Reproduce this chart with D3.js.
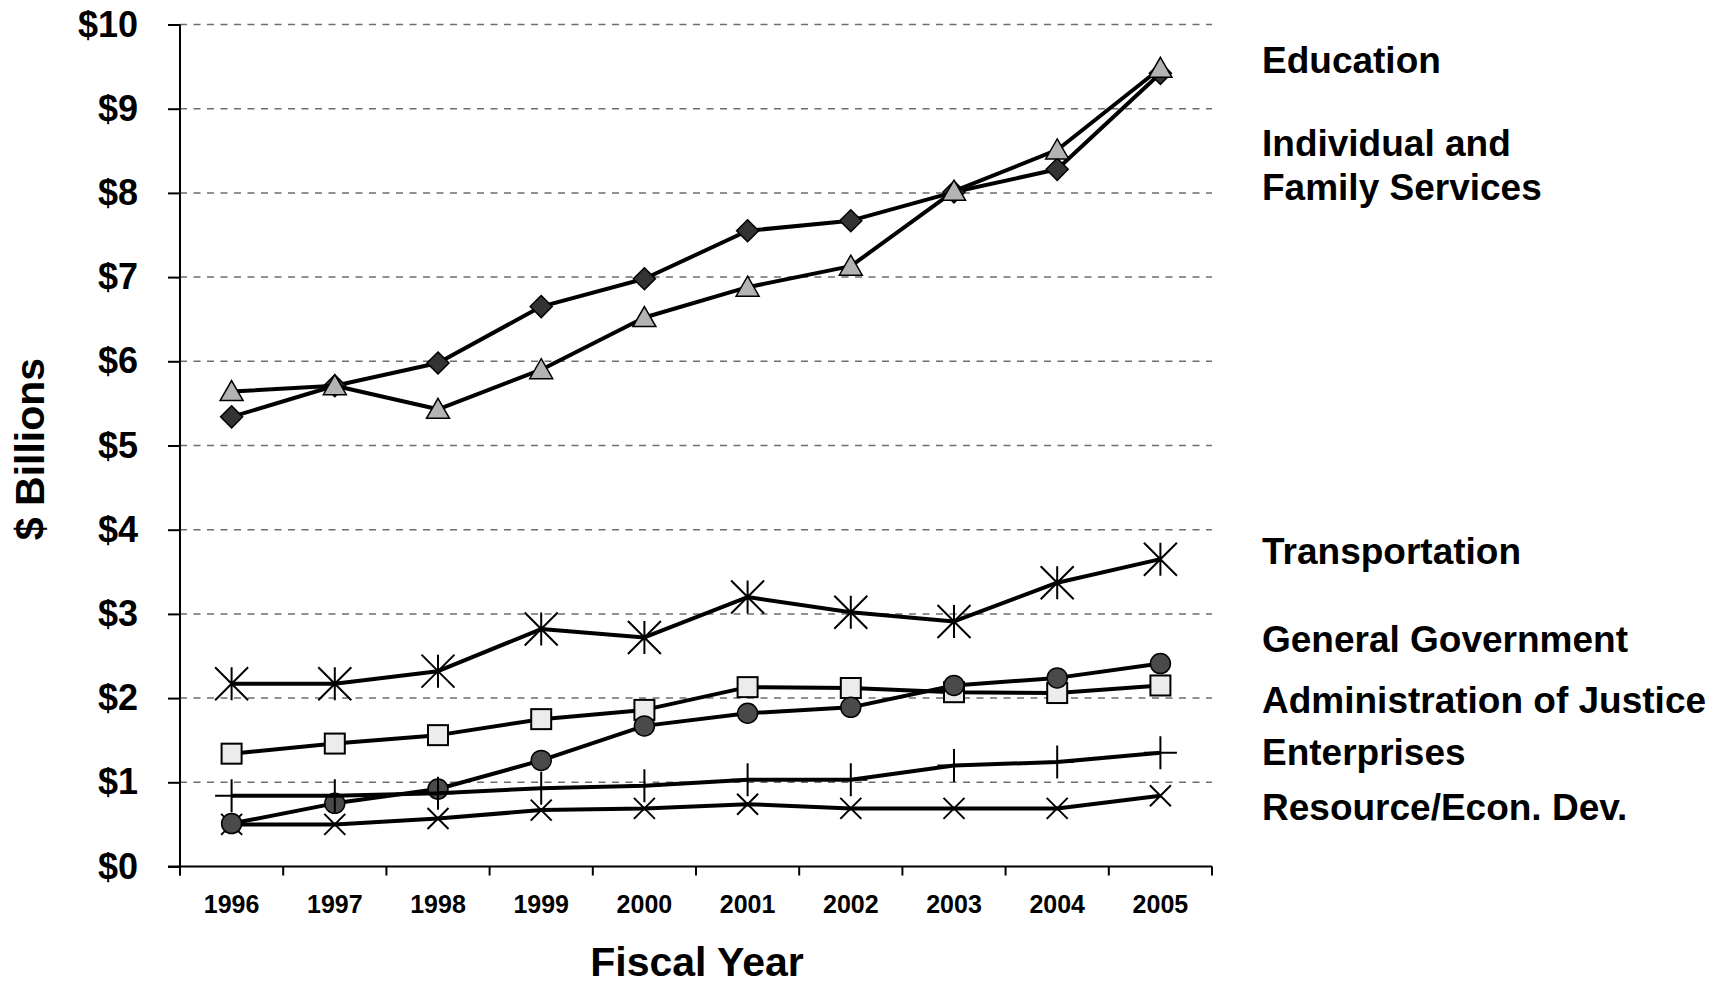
<!DOCTYPE html>
<html>
<head>
<meta charset="utf-8">
<script src="https://cdn.jsdelivr.net/npm/d3@7"></script>
<style>
  body { margin: 0; background: #fff; }
  svg { display: block; }
  text { font-family: "Liberation Sans", Arial, Helvetica, sans-serif; font-weight: bold; fill: #000; }
</style>
</head>
<body>
<svg id="chart" width="1733" height="987"></svg>
<script>
// ---------- data ----------
const years = [1996, 1997, 1998, 1999, 2000, 2001, 2002, 2003, 2004, 2005];
const yTickValues = [0, 1, 2, 3, 4, 5, 6, 7, 8, 9, 10];

const individualFamily = [5.34, 5.71, 5.98, 6.65, 6.98, 7.55, 7.67, 8.01, 8.28, 9.42];
const adminJustice     = [1.34, 1.46, 1.56, 1.75, 1.86, 2.13, 2.12, 2.07, 2.06, 2.15];
const education        = [5.64, 5.71, 5.43, 5.90, 6.52, 6.88, 7.13, 8.02, 8.51, 9.48];
const resourceEcon     = [0.50, 0.50, 0.57, 0.67, 0.69, 0.74, 0.69, 0.69, 0.69, 0.84];
const transportation   = [2.17, 2.17, 2.32, 2.82, 2.72, 3.20, 3.02, 2.91, 3.37, 3.65];
const generalGov       = [0.51, 0.75, 0.92, 1.26, 1.67, 1.82, 1.89, 2.15, 2.24, 2.41];
const enterprises      = [0.84, 0.84, 0.87, 0.93, 0.96, 1.03, 1.03, 1.20, 1.24, 1.35];

const labelLines = ["Education", "Individual and", "Family Services", "Transportation",
  "General Government", "Administration of Justice", "Enterprises", "Resource/Econ. Dev."];

// ---------- layout ----------
const W = 1733, H = 987;
const plotLeft = 180, plotRight = 1212, plotTop = 24.5, plotBottom = 866.5;
const labelX = 1262;
const labelY = [60, 143.5, 187.5, 551, 639.5, 700, 752, 807.5];

const svg = d3.select("#chart");
svg.append("rect").attr("width", W).attr("height", H).attr("fill", "#fff");

const x = d3.scaleBand().domain(years).range([plotLeft, plotRight]).padding(0);
const y = d3.scaleLinear().domain([0, 10]).range([plotBottom, plotTop]);

// gridlines
svg.append("g").selectAll("line").data(yTickValues.filter(d => d > 0)).join("line")
  .attr("x1", plotLeft).attr("x2", plotRight)
  .attr("y1", d => y(d)).attr("y2", d => y(d))
  .attr("stroke", "#6e6e6e").attr("stroke-width", 1.5)
  .attr("stroke-dasharray", "7,6.5");

// y axis
const yAxis = d3.axisLeft(y).tickValues(yTickValues).tickFormat(d => "$" + d)
  .tickSize(12).tickPadding(30);
const gy = svg.append("g").attr("transform", `translate(${plotLeft},0)`).call(yAxis);
gy.select(".domain").attr("stroke", "#000").attr("stroke-width", 2).attr("d", `M0,${plotTop}V${plotBottom + 9}`);
gy.selectAll(".tick line").attr("stroke", "#000").attr("stroke-width", 2);
gy.selectAll(".tick text").style("font-size", "36px").attr("fill", "#000");

// x axis
const xAxis = d3.axisBottom(x).tickSize(0).tickPadding(0);
const gx = svg.append("g").attr("transform", `translate(0,${plotBottom})`).call(xAxis);
gx.select(".domain").attr("stroke", "#000").attr("stroke-width", 2).attr("d", `M${plotLeft - 12},0H${plotRight}`);
gx.selectAll(".tick text").style("font-size", "25px").attr("y", 37.5).attr("dy", "0.35em");
// boundary ticks
const bounds = years.map(d => x(d)).concat([x(years[years.length - 1]) + x.bandwidth()]);
gx.selectAll(".btick").data(bounds).join("line").attr("class", "btick")
  .attr("x1", d => d).attr("x2", d => d).attr("y1", 0).attr("y2", 9)
  .attr("stroke", "#000").attr("stroke-width", 2);

// axis titles
svg.append("text").attr("transform", `translate(44,449) rotate(-90)`)
  .attr("text-anchor", "middle").style("font-size", "41px").text("$ Billions");
svg.append("text").attr("x", 697).attr("y", 976)
  .attr("text-anchor", "middle").style("font-size", "41px").text("Fiscal Year");

// markers
const markers = {
  diamond: g => g.append("path").attr("d", "M0,-11L11,0L0,11L-11,0Z").attr("fill", "#333").attr("stroke", "#000").attr("stroke-width", 1.5),
  square: g => g.append("rect").attr("x", -10).attr("y", -10).attr("width", 20).attr("height", 20).attr("fill", "#ececec").attr("stroke", "#000").attr("stroke-width", 2),
  triangle: g => g.append("path").attr("d", "M0,-11L11.5,9L-11.5,9Z").attr("fill", "#b3b3b3").attr("stroke", "#000").attr("stroke-width", 1.5),
  cross: g => g.append("path").attr("d", "M-10.5,-10.5L10.5,10.5M-10.5,10.5L10.5,-10.5").attr("fill", "none").attr("stroke", "#000").attr("stroke-width", 2),
  asterisk: g => g.append("path").attr("d", "M-16.5,-16.5L16.5,16.5M-16.5,16.5L16.5,-16.5M0,-16.5L0,16.5").attr("fill", "none").attr("stroke", "#000").attr("stroke-width", 2),
  circle: g => g.append("circle").attr("r", 10).attr("fill", "#4a4a4a").attr("stroke", "#000").attr("stroke-width", 1.5),
  plus: g => g.append("path").attr("d", "M-16.5,0L16.5,0M0,-16.5L0,16.5").attr("fill", "none").attr("stroke", "#000").attr("stroke-width", 2)
};

const series = [
  { values: individualFamily, marker: "diamond" },
  { values: adminJustice, marker: "square" },
  { values: education, marker: "triangle" },
  { values: resourceEcon, marker: "cross" },
  { values: transportation, marker: "asterisk" },
  { values: generalGov, marker: "circle" },
  { values: enterprises, marker: "plus" }
];

const cx = d => x(d) + x.bandwidth() / 2;
const line = d3.line().x((v, i) => cx(years[i])).y(v => y(v));

series.forEach(s => {
  const g = svg.append("g");
  g.append("path").attr("d", line(s.values)).attr("fill", "none")
    .attr("stroke", "#000").attr("stroke-width", 4).attr("stroke-linejoin", "round");
  s.values.forEach((v, i) => {
    const m = g.append("g").attr("transform", `translate(${cx(years[i])},${y(v)})`);
    markers[s.marker](m);
  });
});

// series labels
svg.append("g").selectAll("text").data(labelLines).join("text")
  .attr("x", labelX).attr("y", (d, i) => labelY[i]).attr("dy", "0.35em")
  .style("font-size", "37px").text(d => d);
</script>
</body>
</html>
